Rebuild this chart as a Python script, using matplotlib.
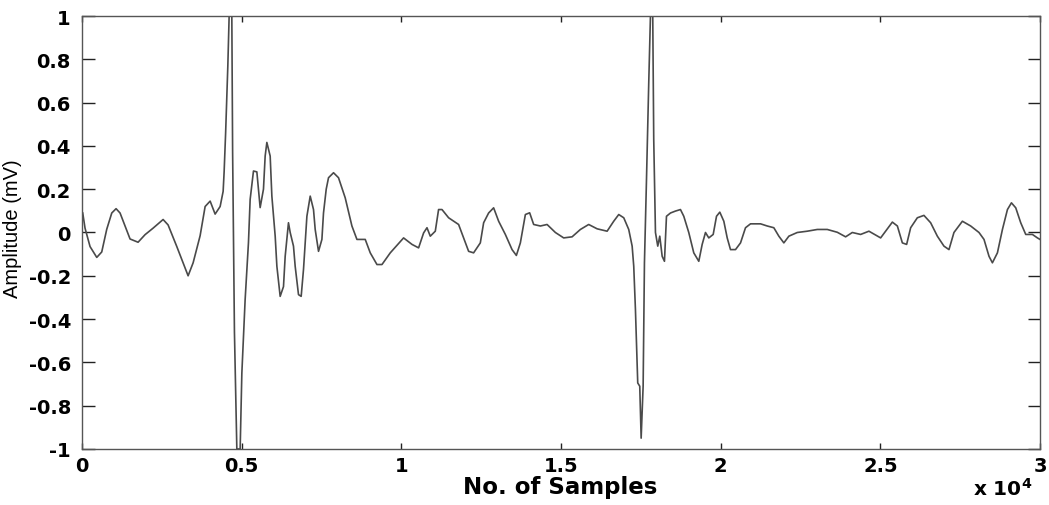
import matplotlib
matplotlib.use("Agg")
import matplotlib.pyplot as plt
from matplotlib.ticker import FuncFormatter

# Sample index and amplitude (mV)
samples = [22, 94, 251, 461, 617, 774, 931, 1066, 1191, 1504, 1755, 1974, 2225, 2539, 2695,
           2968, 3165, 3322, 3479, 3698, 3855, 4012, 4168, 4325, 4419, 4450, 4497, 4566, 4607,
           4691, 4716, 4773, 4848, 4952, 5005, 5108, 5212, 5265, 5369, 5475, 5525, 5578, 5682,
           5735, 5788, 5892, 5945, 6049, 6102, 6205, 6309, 6362, 6465, 6519, 6622, 6675, 6779,
           6863, 6936, 7042, 7146, 7249, 7302, 7406, 7512, 7562, 7647, 7719, 7876, 8032, 8242,
           8452, 8609, 8869, 9026, 9236, 9393, 9653, 10070, 10333, 10540, 10697, 10803, 10906,
           11063, 11166, 11273, 11480, 11793, 11950, 12107, 12263, 12473, 12577, 12733, 12890,
           13047, 13257, 13467, 13602, 13727, 13884, 14018, 14144, 14354, 14564, 14824, 15084,
           15347, 15607, 15867, 16131, 16444, 16651, 16808, 16965, 17121, 17228, 17278, 17331,
           17403, 17466, 17510, 17572, 17613, 17676, 17748, 17801, 17873, 17904, 17958, 18030,
           18093, 18168, 18240, 18303, 18428, 18585, 18741, 18845, 19001, 19158, 19315, 19421,
           19525, 19628, 19766, 19870, 19973, 20099, 20205, 20308, 20465, 20622, 20778, 20935,
           21249, 21459, 21665, 21822, 21979, 22136, 22399, 22712, 23026, 23339, 23653, 23913,
           24123, 24383, 24643, 25010, 25377, 25534, 25690, 25824, 25950, 26159, 26366, 26576,
           26786, 26993, 27150, 27306, 27570, 27830, 28090, 28247, 28404, 28510, 28667, 28824,
           28981, 29106, 29241, 29397, 29554, 29763, 29920, 30000]
amplitude = [0.09, 0.02, -0.065, -0.115, -0.09, 0.015, 0.09, 0.11, 0.09, -0.03, -0.045, -0.01,
             0.02, 0.06, 0.035, -0.065, -0.14, -0.2, -0.14, -0.015, 0.12, 0.145, 0.085, 0.12,
             0.19, 0.28, 0.46, 0.77, 1.0, 1.0, 0.37, -0.46, -1.0, -1.0, -0.65, -0.31, -0.047,
             0.153, 0.284, 0.28, 0.2, 0.115, 0.2, 0.353, 0.416, 0.353, 0.168, -0.017, -0.156,
             -0.295, -0.25, -0.11, 0.045, 0.0, -0.063, -0.156, -0.287, -0.295, -0.17, 0.075,
             0.168, 0.106, 0.014, -0.087, -0.032, 0.09, 0.2, 0.253, 0.276, 0.253, 0.16, 0.03,
             -0.032, -0.032, -0.094, -0.148, -0.148, -0.094, -0.025, -0.055, -0.071, -0.002,
             0.022, -0.017, 0.006, 0.106, 0.106, 0.068, 0.037, -0.025, -0.087, -0.094, -0.048,
             0.045, 0.09, 0.114, 0.052, -0.009, -0.079, -0.106, -0.048, 0.083, 0.091, 0.037,
             0.03, 0.037, 0.0, -0.025, -0.02, 0.014, 0.037, 0.017, 0.006, 0.052, 0.083, 0.068,
             0.014, -0.063, -0.156, -0.356, -0.695, -0.71, -0.95, -0.71, -0.14, 0.238, 0.693,
             1.0, 1.0, 0.43, 0.0, -0.063, -0.017, -0.11, -0.133, 0.075, 0.09, 0.099, 0.106,
             0.075, 0.0, -0.094, -0.133, -0.055, 0.0, -0.025, -0.009, 0.075, 0.094, 0.052,
             -0.025, -0.079, -0.079, -0.048, 0.022, 0.04, 0.04, 0.03, 0.022, -0.017, -0.048,
             -0.017, 0.0, 0.006, 0.014, 0.014, 0.001, -0.02, 0.0, -0.009, 0.006, -0.025, 0.048,
             0.03, -0.048, -0.055, 0.022, 0.068, 0.079, 0.045, -0.017, -0.063, -0.079, 0.0,
             0.052, 0.03, 0.0, -0.032, -0.11, -0.14, -0.094, 0.014, 0.106, 0.137, 0.114, 0.045,
             -0.009, -0.009, -0.025, -0.032]

x_ticks = [0, 5000, 10000, 15000, 20000, 25000, 30000]
y_ticks = [-1, -0.8, -0.6, -0.4, -0.2, 0, 0.2, 0.4, 0.6, 0.8, 1]

plt.rcParams['font.family'] = ['DejaVu Sans']

fig = plt.figure(figsize=(10.49, 5.06), dpi=100)
ax = fig.add_axes([0.0782, 0.1107, 0.9132, 0.8557])

ax.plot(samples, amplitude, color='#4a4a4a', lw=1.2)

ax.set_xlim(0, 30000)
ax.set_ylim(-1, 1)
ax.set_xticks(x_ticks)
ax.set_yticks(y_ticks)
ax.xaxis.set_major_formatter(FuncFormatter(lambda v, p: f"{v/1e4:g}"))
ax.yaxis.set_major_formatter(FuncFormatter(lambda v, p: f"{v:g}"))

ax.tick_params(axis='both', direction='in', top=True, right=True, labelsize=14,
               width=1, color='#222222', labelcolor='black')
ax.tick_params(axis='y', length=9, pad=8)
ax.tick_params(axis='x', length=4.5, pad=5)
for lab in ax.get_xticklabels() + ax.get_yticklabels():
    lab.set_fontweight('bold')

for s in ax.spines.values():
    s.set_color('#555555')
    s.set_linewidth(1.0)

ax.set_xlabel('No. of Samples', fontsize=16.5, fontweight='bold')
ax.set_ylabel('Amplitude (mV)', fontsize=14.5, family=['Liberation Sans', 'DejaVu Sans'])
ax.yaxis.set_label_coords(-0.063, 0.51)
ax.xaxis.set_label_coords(0.499, -0.061)

fig.text(0.956, 0.013, r'x 10$^{\mathbf{4}}$', fontsize=14.5, fontweight='bold',
         ha='center', va='bottom')

fig.savefig('out.png', dpi=100)
